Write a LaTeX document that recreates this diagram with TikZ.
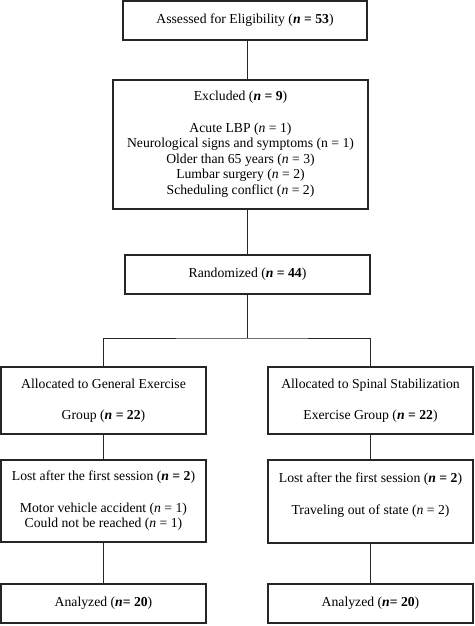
\documentclass[tikz,border=0pt]{standalone}
\usepackage{fontspec}
\setmainfont{Liberation Serif}
\newcommand{\nbf}{\textbf{\textit{n}}}
\newcommand{\nit}{\textit{n}}
\begin{document}
\begin{tikzpicture}[x=1pt,y=-1pt,
  box/.style={draw=black!85, line width=1.5pt, rectangle, inner sep=0pt, align=center,
    font=\fontsize{13.7}{15.6}\selectfont},
  conn/.style={draw=black!85, line width=1pt}]
\useasboundingbox (0,0) rectangle (474,626);
\node[box, minimum width=244, minimum height=39] (elig) at (245,20.5) {Assessed for Eligibility (\nbf\ \textbf{= 53})};
\node[box, minimum width=255, minimum height=129] (excl) at (240.5,144.5) {Excluded (\nbf\ \textbf{= 9})\\[15.6pt]
Acute LBP (\nit\ = 1)\\ Neurological signs and symptoms (n = 1)\\ Older than 65 years (\nit\ = 3)\\ Lumbar surgery (\nit\ = 2)\\ Scheduling conflict (\nit\ = 2)};
\node[box, minimum width=245, minimum height=39] (rand) at (247.5,274.5) {Randomized (\nbf\ \textbf{= 44})};
\node[box, minimum width=205, minimum height=67] (allocL) at (103.5,400.5) {Allocated to General Exercise\\[15.6pt] Group (\nbf\ \textbf{= 22})};
\node[box, minimum width=205, minimum height=67] (allocR) at (370.5,400.5) {Allocated to Spinal Stabilization\\[15.6pt] Exercise Group (\nbf\ \textbf{= 22})};
\node[box, minimum width=205, minimum height=82] (lostL) at (103.5,501) {Lost after the first session (\nbf\ \textbf{= 2})\\[15.6pt] Motor vehicle accident (\nit\ = 1)\\ Could not be reached (\nit\ = 1)};
\node[box, minimum width=205, minimum height=83] (lostR) at (370.5,501.5) {Lost after the first session (\nbf\ \textbf{= 2})\\[15.6pt] Traveling out of state (\nit\ = 2)\\ \mbox{}};
\node[box, minimum width=205, minimum height=39] (anaL) at (103.5,603.5) {Analyzed (\nbf\textbf{= 20})};
\node[box, minimum width=205, minimum height=39] (anaR) at (370.5,603.5) {Analyzed (\nbf\textbf{= 20})};
\coordinate (spine) at (247,0);
\coordinate (split) at (247,338);
\draw[conn] (spine |- elig.south) -- (spine |- excl.north);
\draw[conn] (spine |- excl.south) -- (spine |- rand.north);
\draw[conn] (spine |- rand.south) -- (split);
\draw[conn] (allocL.north) |- (split) -| (allocR.north);
\draw[conn] (allocL.south) -- (lostL.north);
\draw[conn] (allocR.south) -- (lostR.north);
\draw[conn] (lostL.south) -- (anaL.north);
\draw[conn] (lostR.south) -- (anaR.north);
\end{tikzpicture}
\end{document}
